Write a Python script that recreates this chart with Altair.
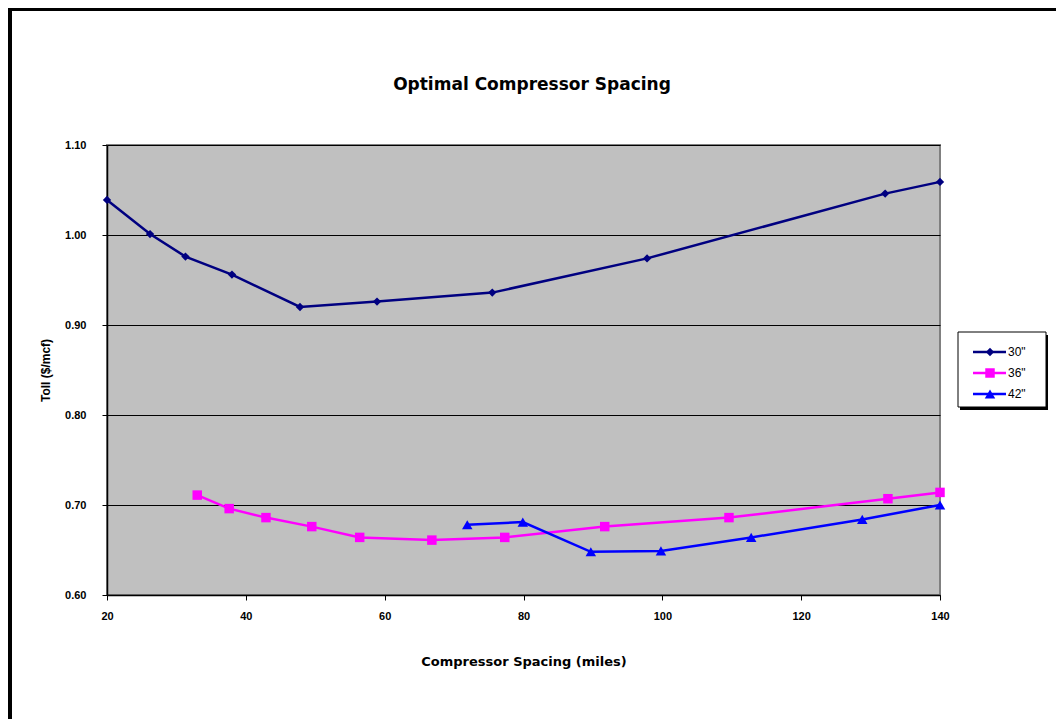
import altair as alt
import pandas as pd

chart_title = "Optimal Compressor Spacing"
series_names = ['30"', '36"', '42"']
colors = ["#000080", "#FF00FF", "#0000FF"]
shapes = ["diamond", "square", "triangle-up"]
marker_sizes = [70, 110, 90]

x30 = [20, 26.2, 31.3, 38.0, 47.8, 58.9, 75.5, 97.8, 132.1, 140]
y30 = [1.039, 1.001, 0.976, 0.956, 0.920, 0.926, 0.936, 0.974, 1.046, 1.059]
x36 = [33.0, 37.6, 42.9, 49.5, 56.4, 66.8, 77.3, 91.7, 109.6, 132.5, 140]
y36 = [0.711, 0.696, 0.686, 0.676, 0.664, 0.661, 0.664, 0.676, 0.686, 0.707, 0.714]
x42 = [71.9, 79.9, 89.7, 99.8, 112.8, 128.8, 140]
y42 = [0.678, 0.681, 0.648, 0.649, 0.664, 0.684, 0.700]

x_ticks = [20, 40, 60, 80, 100, 120, 140]
y_ticks = [0.6, 0.7, 0.8, 0.9, 1.0, 1.1]

rows = []
for name, xs, ys in zip(series_names, [x30, x36, x42], [y30, y36, y42]):
    for xv, yv in zip(xs, ys):
        rows.append({"series": name, "spacing": xv, "toll": yv})
df = pd.DataFrame(rows)
leg_df = pd.DataFrame({"series": series_names})
one = pd.DataFrame({"a": [0]})

FONT = "Liberation Sans"
WIDE = "DejaVu Sans"

X = alt.X("spacing:Q",
          scale=alt.Scale(domain=[20, 140], nice=False, zero=False),
          axis=alt.Axis(values=x_ticks, title="Compressor Spacing (miles)",
                        grid=False, labelPadding=10, titlePadding=34,
                        labelFlush=False, titleFont=WIDE, titleFontSize=13,
                        tickSize=5, tickColor="black", domainColor="black",
                        domainWidth=1.5))
Y = alt.Y("toll:Q",
          scale=alt.Scale(domain=[0.6, 1.1], nice=False, zero=False),
          axis=alt.Axis(values=y_ticks, format=".2f", title="Toll ($/mcf)",
                        grid=True, gridColor="black", gridWidth=1, gridOpacity=1,
                        labelPadding=16, titlePadding=12, labelFlush=False,
                        tickSize=5, tickColor="black", domainColor="black",
                        domainWidth=1.5))
color = alt.Color("series:N", scale=alt.Scale(domain=series_names, range=colors), legend=None)
shape = alt.Shape("series:N", scale=alt.Scale(domain=series_names, range=shapes), legend=None)
size = alt.Size("series:N", scale=alt.Scale(domain=series_names, range=marker_sizes), legend=None)

lines = alt.Chart(df).mark_line(strokeWidth=2.5).encode(x=X, y=Y, color=color, detail="series:N")
points = alt.Chart(df).mark_point(filled=True, opacity=1).encode(x=X, y=Y, color=color, shape=shape, size=size)

frame = alt.Chart(one).mark_rect(fill="transparent", stroke="black", strokeWidth=4).encode(
    x=alt.value(-97), x2=alt.value(1100), y=alt.value(-136), y2=alt.value(800))

title_txt = alt.Chart(one).mark_text(font=WIDE, fontSize=17, fontWeight="bold", color="black",
                                     align="center", baseline="middle").encode(
    x=alt.value(425), y=alt.value(-60), text=alt.value(chart_title))

legY = alt.Y("series:N", scale=alt.Scale(type="point", domain=series_names, range=[207, 249], padding=0), axis=None)

leg_shadow = alt.Chart(one).mark_rect(fill="black").encode(
    x=alt.value(853), x2=alt.value(941), y=alt.value(190), y2=alt.value(265))
leg_box = alt.Chart(one).mark_rect(fill="white", stroke="black", strokeWidth=1).encode(
    x=alt.value(851), x2=alt.value(939), y=alt.value(187), y2=alt.value(262))
leg_lines = alt.Chart(leg_df).mark_rule(strokeWidth=2.5).encode(
    x=alt.value(866), x2=alt.value(899), y=legY, color=color)
leg_pts = alt.Chart(leg_df).mark_point(filled=True, opacity=1).encode(
    x=alt.value(883), y=legY, color=color, shape=shape, size=size)
leg_txt = alt.Chart(leg_df).mark_text(align="left", baseline="middle", font=FONT, fontSize=12, color="black").encode(
    x=alt.value(901), y=legY, text="series:N")

main = alt.layer(frame, title_txt, lines, points)
legend = alt.layer(leg_shadow, leg_box, leg_lines, leg_pts, leg_txt)

chart = alt.layer(main, legend).resolve_scale(
    y="independent"
).properties(
    width=833, height=450,
    padding={"left": 99, "top": 137, "right": 116, "bottom": 124},
    autosize=alt.AutoSizeParams(type="none"),
    background="white",
).configure_view(
    fill="#C0C0C0", stroke="#808080", strokeWidth=2
).configure_axis(
    labelFont=FONT, labelFontSize=11, labelFontWeight="bold", labelColor="black",
    titleFont=FONT, titleFontSize=12, titleFontWeight="bold", titleColor="black",
)

chart.save("out.html", embed_options={"renderer": "svg", "actions": False})
